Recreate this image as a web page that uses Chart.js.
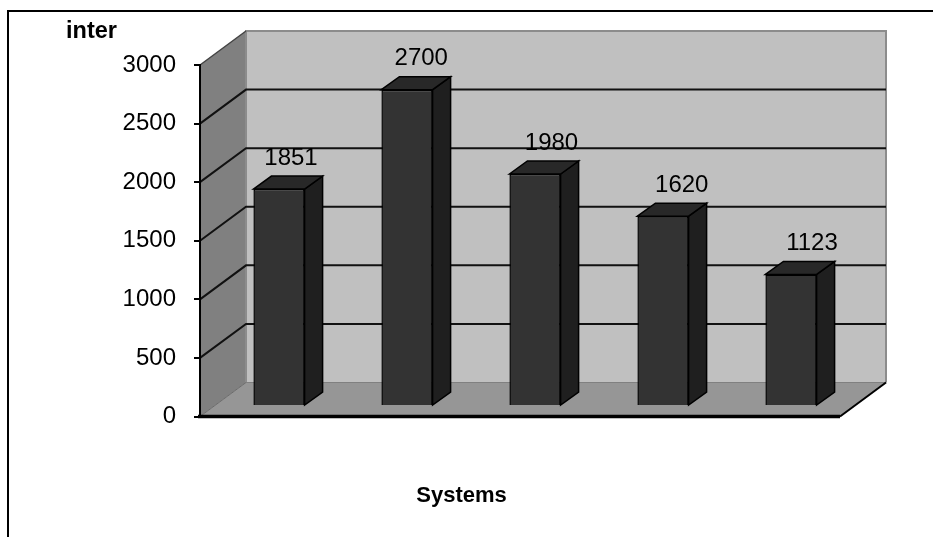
<!DOCTYPE html>
<html>
<head>
<meta charset="utf-8">
<script src="https://cdn.jsdelivr.net/npm/chart.js@4/dist/chart.umd.min.js"></script>
<style>
  html, body { margin: 0; padding: 0; background: #fff; }
  #wrap { width: 933px; height: 537px; }
</style>
</head>
<body>
<div id="wrap"><canvas id="c" width="933" height="537"></canvas></div>
<script>
// ---- data ----
const systems = ['System 1', 'System 2', 'System 3', 'System 4', 'System 5'];
const interValues = [1851, 2700, 1980, 1620, 1123];
const yTicks = [0, 500, 1000, 1500, 2000, 2500, 3000];
const yTitle = 'inter';
const xTitle = 'Systems';

// ---- 3D look ----
const DEPTH = { dx: 46, dy: -34 };        // depth of the floor / side wall
const BAR_SHIFT = { dx: 15, dy: -10.5 };  // bar row sits partway back on the floor
const BAR_DEPTH = { dx: 18, dy: -13 };    // extrusion of each bar
const FONT = '"Liberation Sans", Arial, sans-serif';

function poly(ctx, pts, fill, stroke, lw) {
  ctx.beginPath();
  pts.forEach((p, i) => (i ? ctx.lineTo(p[0], p[1]) : ctx.moveTo(p[0], p[1])));
  ctx.closePath();
  if (fill) { ctx.fillStyle = fill; ctx.fill(); }
  if (stroke) { ctx.strokeStyle = stroke; ctx.lineWidth = lw || 1; ctx.stroke(); }
}
function seg(ctx, pts, color, lw) {
  ctx.beginPath();
  pts.forEach((p, i) => (i ? ctx.lineTo(p[0], p[1]) : ctx.moveTo(p[0], p[1])));
  ctx.strokeStyle = color; ctx.lineWidth = lw; ctx.stroke();
}

const box3d = {
  id: 'box3d',
  beforeDraw(chart) {
    const { ctx, chartArea: a, scales: { y } } = chart;
    const L = a.left, R = a.right;
    const B = y.getPixelForValue(yTicks[0]);
    const T = y.getPixelForValue(yTicks[yTicks.length - 1]);
    const dx = DEPTH.dx, dy = DEPTH.dy;
    ctx.save();

    // outer frame (top and left)
    seg(ctx, [[8, 537], [8, 11], [933, 11]], '#000', 2);

    // back wall
    poly(ctx, [[L + dx, T + dy], [R + dx, T + dy], [R + dx, B + dy], [L + dx, B + dy]], '#c0c0c0');
    // side wall
    poly(ctx, [[L, T], [L + dx, T + dy], [L + dx, B + dy], [L, B]], '#808080');
    // floor
    poly(ctx, [[L, B], [L + dx, B + dy], [R + dx, B + dy], [R, B]], '#969696');

    // wall outlines
    seg(ctx, [[L + dx, B + dy], [L + dx, T + dy], [R + dx, T + dy], [R + dx, B + dy]], '#8c8c8c', 2);
    seg(ctx, [[L + dx, B + dy], [R + dx, B + dy]], '#808080', 1);
    seg(ctx, [[L, T], [L + dx, T + dy]], '#444', 1.5);
    seg(ctx, [[L, B], [L + dx, B + dy]], '#6a6a6a', 1);

    // gridlines across the side and back walls
    yTicks.forEach(v => {
      if (v <= yTicks[0] || v >= yTicks[yTicks.length - 1]) return;
      const py = y.getPixelForValue(v);
      seg(ctx, [[L, py], [L + dx, py + dy], [R + dx, py + dy]], '#111', 2);
    });

    // floor front and right edges
    seg(ctx, [[L - 2, B], [R, B]], '#000', 3.5);
    seg(ctx, [[R, B], [R + dx, B + dy]], '#000', 2);

    // axis titles
    ctx.fillStyle = '#000';
    ctx.textAlign = 'left';
    ctx.textBaseline = 'alphabetic';
    ctx.font = 'bold 23.5px ' + FONT;
    ctx.fillText(yTitle, 66, 38);
    ctx.font = 'bold 22px ' + FONT;
    ctx.textAlign = 'center';
    ctx.fillText(xTitle, 461.5, 502);
    ctx.restore();
  },
  beforeDatasetsDraw(chart) {
    chart.ctx.save();
    chart.ctx.translate(BAR_SHIFT.dx, BAR_SHIFT.dy);
  },
  afterDatasetsDraw(chart) {
    const { ctx, chartArea: a } = chart;
    const meta = chart.getDatasetMeta(0);
    const ddx = BAR_DEPTH.dx, ddy = BAR_DEPTH.dy;
    meta.data.forEach((bar, i) => {
      const { x, y, base, width } = bar.getProps(['x', 'y', 'base', 'width'], true);
      const l = x - width / 2, r = x + width / 2;
      // right side face
      poly(ctx, [[r, y], [r + ddx, y + ddy], [r + ddx, base + ddy], [r, base]], '#1f1f1f', '#000', 1.5);
      // top face
      poly(ctx, [[l, y], [l + ddx, y + ddy], [r + ddx, y + ddy], [r, y]], '#282828', '#000', 1.5);
      // value label
      const off = 12 + (x - a.left - (a.right - a.left) / (systems.length * 2)) * 0.0176;
      ctx.fillStyle = '#000';
      ctx.font = '24px ' + FONT;
      ctx.textAlign = 'center';
      ctx.textBaseline = 'middle';
      ctx.fillText(String(interValues[i]), x + off, y + ddy - 18);
    });
    ctx.restore();
  }
};

new Chart(document.getElementById('c'), {
  type: 'bar',
  data: {
    labels: systems,
    datasets: [{
      label: yTitle,
      data: interValues,
      backgroundColor: '#333333',
      borderColor: '#000',
      borderWidth: 1.5,
      barPercentage: 0.4,
      categoryPercentage: 1.0,
      clip: false
    }]
  },
  options: {
    responsive: false,
    devicePixelRatio: 1,
    animation: false,
    events: [],
    layout: { padding: { left: 0, top: 65, right: 93, bottom: 120.5 } },
    plugins: { legend: { display: false }, tooltip: { enabled: false }, title: { display: false } },
    scales: {
      x: { display: false, offset: true },
      y: {
        min: yTicks[0],
        max: yTicks[yTicks.length - 1],
        afterBuildTicks: s => { s.ticks = yTicks.map(v => ({ value: v })); },
        afterFit: s => { s.width = 200; },
        grid: { drawOnChartArea: false, drawTicks: true, tickLength: 6, color: '#000', lineWidth: 2 },
        border: { display: true, color: '#000', width: 2 },
        ticks: { color: '#000', padding: 18, font: { family: FONT, size: 24 }, callback: v => String(v) }
      }
    }
  },
  plugins: [box3d]
});
</script>
</body>
</html>
